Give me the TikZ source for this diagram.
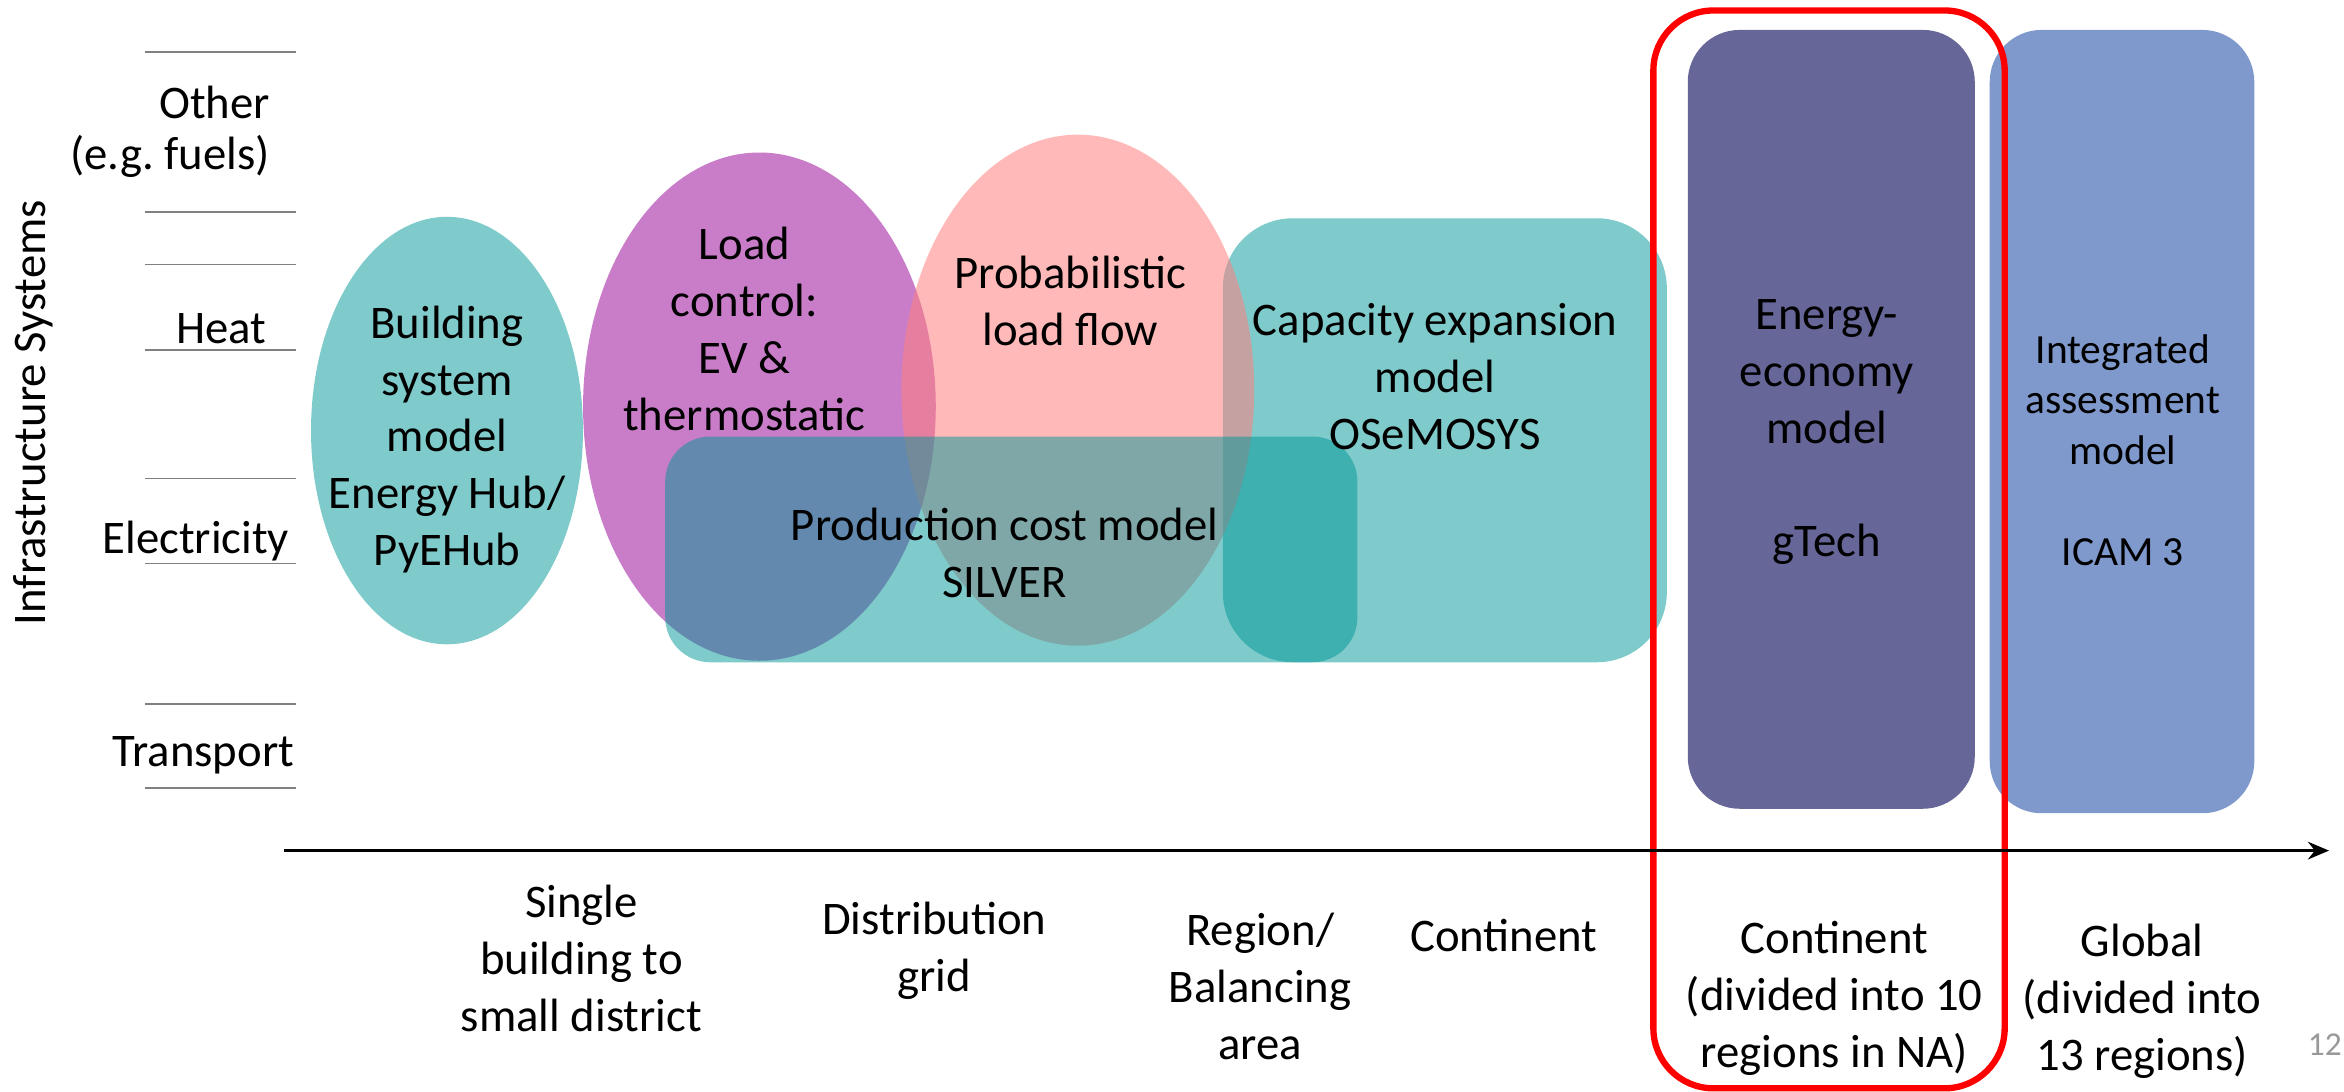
\documentclass[tikz,border=0pt]{standalone}
\usepackage{fontspec}
\setmainfont{Carlito}
\usetikzlibrary{positioning,arrows.meta}
\definecolor{tealfill}{RGB}{0,150,150}
\definecolor{purplefill}{RGB}{201,125,201}
\definecolor{pinkfill}{RGB}{255,128,128}
\definecolor{econfill}{RGB}{102,102,153}
\definecolor{iamfill}{RGB}{127,153,204}

\begin{document}
\begin{tikzpicture}[x=0.01495cm, y=-0.01495cm,
    lbl/.style={align=center, font=\fontsize{13.3}{16.2}\selectfont, inner sep=0pt},
    smalllbl/.style={align=center, font=\fontsize{11.8}{14.4}\selectfont, inner sep=0pt},
    sysline/.style={draw=black!50, line width=0.5pt},
    tealshape/.style={fill=tealfill, fill opacity=0.5},
    ]
        \useasboundingbox (0,0) rectangle (1568,730);

        %Shapes
        \fill[tealshape] (299,288) ellipse [x radius=1.360cm, y radius=2.138cm];
        \fill[tealshape, rounded corners=0.7cm] (818,146) rectangle (1115,443);
        \fill[purplefill] (508,272) ellipse [x radius=1.764cm, y radius=2.542cm];
        \fill[pinkfill, fill opacity=0.55] (721,261) ellipse [x radius=1.764cm, y radius=2.556cm];
        \fill[tealshape, rounded corners=0.45cm] (445,292) rectangle (908,443);
        \fill[econfill, rounded corners=0.52cm] (1129,20) rectangle (1321,541);
        \fill[iamfill, rounded corners=0.52cm] (1331,20) rectangle (1508,544);
        \draw[red, line width=1.8pt, rounded corners=0.6cm] (1106,7) rectangle (1341,728);

        %Model labels
        \node[lbl] (bldg) at (299,294) {Building\\system\\model\\Energy Hub/\\PyEHub};
        \node[lbl] (loadctl) at (498,220) {Load\\control:\\EV \&\\thermostatic};
        \node[lbl] (plf) at (716,201) {Probabilistic\\load flow};
        \node[lbl] (prodcost) at (672,370) {Production cost model\\SILVER};
        \node[lbl] (capexp) at (960,252) {Capacity expansion\\model\\OSeMOSYS};
        \node[lbl] (econ) at (1222,289) {Energy-\\economy\\model\\[16.2pt]gTech};
        \node[smalllbl] (iam) at (1420,301) {Integrated\\assessment\\model\\[14.4pt]ICAM 3};

        %Systems axis
        \foreach \yy in {35,142,177,234,320,377,471,527}
            \draw[sysline] (97,\yy) -- (198,\yy);
        \node[lbl, anchor=east, align=right, font=\fontsize{13.3}{14.5}\selectfont]
            (other) at (181,88) {Other\\(e.g.\ fuels)};
        \node[lbl] (heat) at (148,220) {Heat};
        \node[lbl] (elec) at (131,362) {Electricity};
        \node[lbl] (transp) at (136,505) {Transport};
        \node[lbl, rotate=90] (infra) at (22,276) {Infrastructure Systems};

        %Scale axis
        \coordinate (axstart) at (190,569);
        \coordinate (axend) at (1558,569);
        \draw[-{Stealth[length=6pt, width=5pt]}, line width=0.9pt] (axstart) -- (axend);
        \node[lbl] (single) at (389,641) {Single\\building to\\small district};
        \node[lbl] (distgrid) at (625,636) {Distribution\\grid};
        \node[lbl] (region) at (843,660) {Region/\\Balancing\\area};
        \node[lbl] (cont) at (1006,626) {Continent};
        \node[lbl] (contna) at (1227,668) {Continent\\(divided into 10\\regions in NA)};
        \node[lbl] (global) at (1433,670) {Global\\(divided into\\13 regions)};
        \node[font=\fontsize{9.5}{11}\selectfont, text=black!40, anchor=east, inner sep=0pt]
            (pgnum) at (1567,699) {12};
\end{tikzpicture}
\end{document}
